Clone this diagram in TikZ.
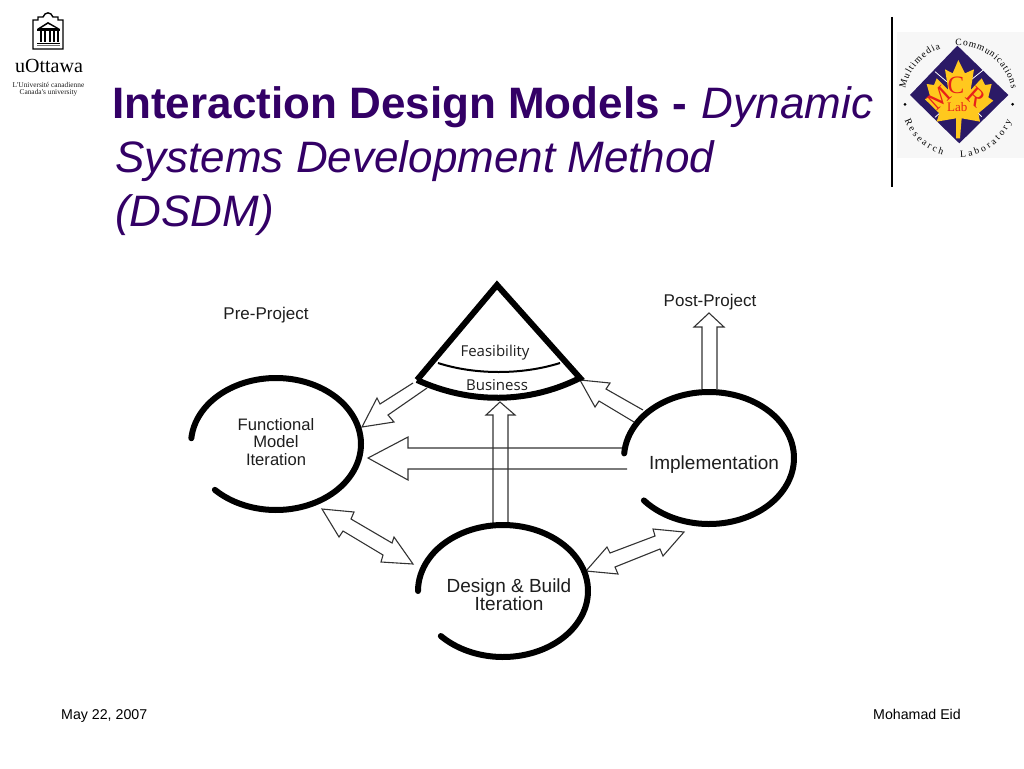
\documentclass[tikz,border=0pt]{standalone}
\usepackage{fontspec}
\setmainfont{Liberation Sans}
\newfontfamily\logoserif{Liberation Serif}
\newfontfamily\humanist{Open Sans}
\usetikzlibrary{decorations.text}
\definecolor{titlepurple}{HTML}{330066}
\definecolor{inkgray}{HTML}{1E1E1E}
\definecolor{linegray}{HTML}{333333}
\definecolor{diamondblue}{HTML}{2B1A66}
\definecolor{leafyellow}{HTML}{FFC81E}
\definecolor{logored}{HTML}{E8201A}
\newcommand{\pxfont}[1]{\fontsize{#1}{#1}\selectfont}
\tikzset{
  titletext/.style={anchor=base west,inner sep=0pt,text=titlepurple,font=\fontsize{44}{44}\selectfont},
  footertext/.style={inner sep=0pt,text=black,font=\pxfont{14.2}},
  difflabel/.style={inner sep=0pt,text=inkgray,align=center,font=\pxfont{19}},
  phaselabel/.style={inner sep=0pt,text=inkgray,align=center,font=\humanist\pxfont{15}},
  heavy/.style={line width=6pt,line cap=round,black},
  blockarrow/.style={line width=1.1pt,draw=linegray,line join=miter},
  ringtext/.style={decorate,decoration={text along path,text align={fit to path},text={|\logoserif\pxfont{9.6}|#1}}},
}
\begin{document}
\begin{tikzpicture}[x=1pt,y=-1pt]
\useasboundingbox (0,0) rectangle (1024,768);
\fill[white] (0,0) rectangle (1024,768);

% title
\node[titletext] (title1) at (112,118) {\textbf{Interaction Design Models - }\hspace{3pt}\textit{Dynamic}};
\node[titletext] (title2) at (115,172) {\textit{Systems Development Method}};
\node[titletext] (title3) at (115,226) {\textit{(DSDM)}};

% footer
\node[footertext,anchor=base west] (date) at (61,719) {May 22, 2007};
\node[footertext,anchor=base east] (author) at (961,719) {Mohamad Eid};

% rule beside the lab logo
\draw[line width=1.1pt,black] (892,17) -- (892,187);

% block arrows
\draw[blockarrow] (413,383) -- (380,404) -- (377,398) -- (362,427) -- (394,422) -- (388,415) -- (427,388);
\draw[blockarrow] (623,448) -- (408,448) -- (408,437) -- (368,458) -- (408,480) -- (408,469) -- (627,469);
\draw[blockarrow] (493,525) -- (493,415) -- (486,415) -- (500,402) -- (515,415) -- (508,415) -- (508,525);
\draw[blockarrow] (702,389) -- (702,327) -- (694,327) -- (709,313) -- (724,327) -- (717,327) -- (717,389);
\draw[blockarrow] (643,410) -- (606,389) -- (610,383) -- (580,380) -- (595,407) -- (599,401) -- (634,422);
\draw[blockarrow] (322,509) -- (354,512) -- (351,519) -- (392,543) -- (394,537) -- (413,564) -- (381,562) -- (383,555) -- (343,531) -- (339,537) -- cycle;
\draw[blockarrow] (586,571) -- (607,547) -- (610,553) -- (655,536) -- (653,529) -- (684,532) -- (663,556) -- (660,549) -- (615,567) -- (618,574) -- cycle;

% triangle of feasibility and business
\draw[line width=2pt,black] (438,363) .. controls (475,375) and (522,375) .. (560,363);
\draw[line width=6pt,line join=miter,black] (417,380) -- (497,285) -- (580,378) .. controls (528,404) and (470,404) .. (417,380);
\node[phaselabel] (feas) at (495,353) {Feasibility};
\node[phaselabel] (bus) at (497,385) {Business};

% open iteration circles
\draw[heavy] plot[domain=185:496,samples=90,smooth] ({276+85*cos(\x)},{444+66*sin(\x)});
\draw[heavy] plot[domain=184:500,samples=90,smooth] ({709+85*cos(\x)},{458+66*sin(\x)});
\draw[heavy] plot[domain=180:497,samples=90,smooth] ({503+85*cos(\x)},{591+66*sin(\x)});

% labels
\node[difflabel,font=\pxfont{17}] (pre) at (266,315) {Pre-Project};
\node[difflabel,font=\pxfont{17}] (post) at (710,302) {Post-Project};
\node[difflabel,font=\pxfont{16.6}] (func) at (276,442) {Functional\\[1pt]Model\\[1pt]Iteration};
\node[difflabel] (impl) at (714,465) {Implementation};
\node[difflabel] (build) at (509,595) {Design \& Build\\[-1pt]Iteration};

% uOttawa logo
\draw[line width=1.4pt,black,line join=miter] (33,49) -- (33,20) -- (38,20) -- (38,17) -- (43,17) .. controls (45,11.5) and (51,11.5) .. (53,17) -- (58,17) -- (58,20) -- (63,20) -- (63,49) -- cycle;
\fill[black] (37,29) -- (48,22) -- (60,29) -- cycle;
\fill[white] (41.5,28) -- (48,24) -- (55.5,28) -- cycle;
\fill[black] (37,29) rectangle (60,31);
\foreach \cx in {39.5,44,48.5,53,57}{\fill[black] (\cx,31) rectangle (\cx+2.4,42);}
\fill[black] (37,43) rectangle (60,44.5);
\fill[black!55] (37,45.5) rectangle (60,46.5);
\node[inner sep=0pt,text=black] (uo) at (49,66) {\logoserif\pxfont{20}uOttawa};
\node[inner sep=0pt,text=inkgray] (uo1) at (48.5,85) {\logoserif\pxfont{7.4}L'Université canadienne};
\node[inner sep=0pt,text=inkgray] (uo2) at (48.5,93) {\logoserif\pxfont{7.4}Canada's university};

% MCR lab logo
\fill[black!3] (897,32) rectangle (1024,158);
\begin{scope}[shift={(880pt,-10pt)},x=0.3333pt,y=-0.3333pt]
  \fill[diamondblue] (232,107) -- (385,255) -- (238,400) -- (90,255) -- cycle;
  \draw[white,line width=0.8pt] (165,185) -- (200,215) (310,180) -- (270,212) (165,322) -- (190,300) (305,320) -- (285,300);
  \fill[leafyellow] (235,150) -- (255,190) -- (282,178) -- (272,240) -- (305,205) -- (315,225) -- (335,222) -- (325,262) -- (340,272) -- (295,310) -- (300,335) -- (245,325) -- (240,385) -- (228,385) -- (228,325) -- (170,335) -- (178,310) -- (135,268) -- (150,258) -- (140,222) -- (162,225) -- (170,205) -- (205,240) -- (195,178) -- (218,190) -- cycle;
  \node[text=logored,inner sep=0pt,rotate=42] (m) at (178,263) {\logoserif\pxfont{25}M};
  \node[text=logored,inner sep=0pt] (c) at (228,225) {\logoserif\pxfont{25}C};
  \node[text=logored,inner sep=0pt,rotate=-42] (r) at (288,262) {\logoserif\pxfont{25}R};
  \node[text=logored,inner sep=0pt] (lab) at (232,292) {\logoserif\pxfont{13}Lab};
  \fill[black] (75,283) circle (4.5);
  \fill[black] (398,283) circle (4.5);
  \path[ringtext=Multimedia] plot[domain=192:251,samples=40] ({235+163*cos(\x)},{270+163*sin(\x)});
  \path[ringtext=Communications] plot[domain=267:348,samples=40] ({235+163*cos(\x)},{270+163*sin(\x)});
  \path[ringtext=Research] plot[domain=159:106,samples=40] ({235+172*cos(\x)},{270+172*sin(\x)});
  \path[ringtext=Laboratory] plot[domain=88:22,samples=40] ({235+172*cos(\x)},{270+172*sin(\x)});
\end{scope}
\end{tikzpicture}
\end{document}
